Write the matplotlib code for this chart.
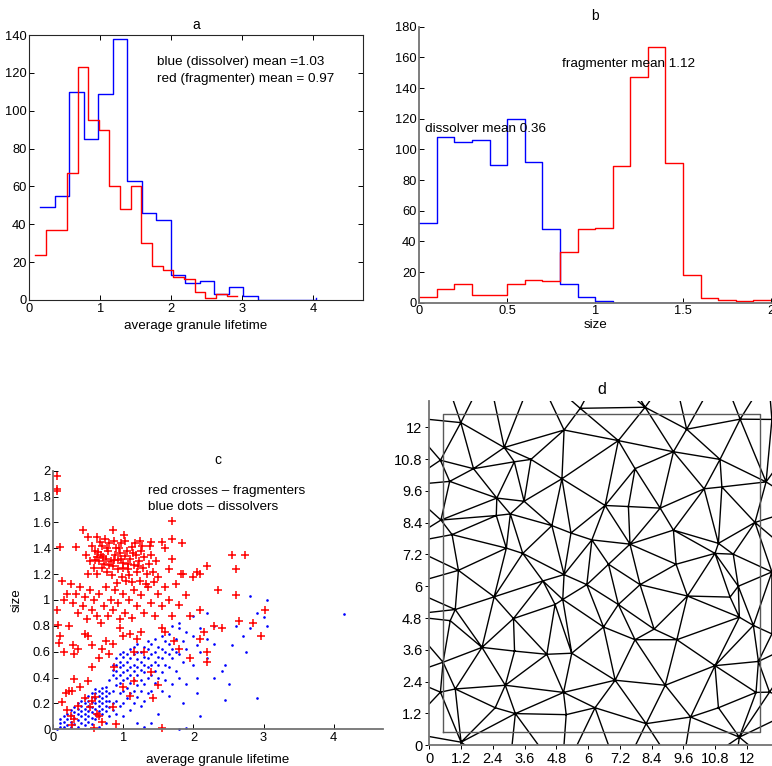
import numpy as np
import matplotlib
matplotlib.use('Agg')
import matplotlib.pyplot as plt
import matplotlib.tri as mtri

plt.rcParams['font.family'] = ['Liberation Sans', 'DejaVu Sans']

# ---- panel a: lifetime histograms (stairs at bin centres) ----
a_blue_x = [0.155, 0.36, 0.564, 0.769, 0.973, 1.178, 1.382, 1.587, 1.791, 1.996,
            2.2, 2.405, 2.609, 2.814, 3.018, 3.223, 3.427, 3.632, 3.836, 4.04]
a_blue_n = [49, 55, 110, 85, 109, 138, 63, 46, 42, 13, 9, 10, 3, 7, 2, 0, 0, 0, 0, 1]
a_red_x = [0.08, 0.23, 0.38, 0.53, 0.68, 0.83, 0.98, 1.13, 1.28, 1.43,
           1.58, 1.73, 1.88, 2.03, 2.18, 2.33, 2.48, 2.63, 2.78, 2.93]
a_red_n = [24, 37, 37, 67, 123, 95, 90, 60, 48, 60, 30, 18, 16, 12, 11, 4, 1, 3, 2, 2]

# ---- panel b: size histograms ----
b_x = [0.0, 0.1, 0.2, 0.3, 0.4, 0.5, 0.6, 0.7, 0.8, 0.9, 1.0,
       1.1, 1.2, 1.3, 1.4, 1.5, 1.6, 1.7, 1.8, 1.9, 2.0]
b_blue_n = [52, 108, 105, 106, 90, 120, 92, 48, 12, 4, 1, 0, 0, 0, 0, 0, 0, 0, 0, 0, 0]
b_red_n = [4, 9, 12, 5, 5, 12, 15, 14, 33, 48, 49, 89, 147, 167, 91, 18, 3, 2, 1, 2, 2]

# ---- panel c: lifetime vs size ----
red_pts = [
    (0.05, 1.96), (0.05, 1.86), (0.05, 1.84), (1.70, 1.61),
    (0.43, 1.54), (0.62, 1.49), (0.85, 1.54), (1.01, 1.50), (1.24, 1.46), (1.40, 1.45),
    (1.55, 1.45), (1.70, 1.47), (1.84, 1.44), (0.10, 1.41), (0.32, 1.41), (0.49, 1.49),
    (0.55, 1.42), (0.60, 1.38), (0.62, 1.33), (0.65, 1.30), (0.68, 1.35), (0.70, 1.42),
    (0.72, 1.28), (0.75, 1.32), (0.78, 1.38), (0.80, 1.44), (0.82, 1.30), (0.85, 1.26),
    (0.88, 1.35), (0.90, 1.40), (0.92, 1.31), (0.95, 1.36), (0.97, 1.44), (1.00, 1.29),
    (1.02, 1.34), (1.05, 1.38), (1.07, 1.24), (1.10, 1.32), (1.12, 1.41), (1.15, 1.27),
    (1.18, 1.35), (1.20, 1.22), (1.22, 1.30), (1.25, 1.38), (1.28, 1.25), (1.30, 1.33),
    (1.33, 1.20), (1.36, 1.28), (1.40, 1.35), (1.42, 1.22), (1.46, 1.30), (1.50, 1.18),
    (0.58, 1.25), (0.63, 1.20), (0.66, 1.45), (0.74, 1.47), (0.86, 1.46), (0.93, 1.24),
    (0.98, 1.18), (1.03, 1.46), (1.08, 1.19), (1.13, 1.14), (1.17, 1.44), (1.23, 1.15),
    (1.27, 1.42), (1.32, 1.12), (1.38, 1.42), (1.44, 1.14), (0.52, 1.30), (0.50, 1.20),
    (0.47, 1.35), (0.69, 1.25), (0.77, 1.22), (0.84, 1.19), (0.91, 1.13), (0.99, 1.25),
    (1.04, 1.15), (0.64, 1.37), (0.71, 1.33), (0.79, 1.27), (0.87, 1.31), (0.96, 1.32),
    (1.06, 1.28), (1.14, 1.36), (1.21, 1.26), (0.59, 1.31), (0.76, 1.40), (0.94, 1.40),
    (0.12, 1.15), (0.15, 1.00), (0.20, 1.05), (0.25, 1.12), (0.28, 0.98), (0.32, 1.05),
    (0.35, 0.90), (0.38, 1.10), (0.42, 0.95), (0.45, 1.02), (0.48, 0.85), (0.52, 1.08),
    (0.55, 0.92), (0.58, 1.00), (0.62, 0.88), (0.65, 1.05), (0.68, 0.82), (0.72, 0.95),
    (0.75, 1.10), (0.78, 0.88), (0.82, 1.00), (0.85, 0.92), (0.88, 1.08), (0.92, 0.98),
    (0.95, 0.85), (1.00, 1.05), (1.03, 0.90), (1.08, 1.00), (1.12, 0.86), (1.15, 1.08),
    (1.20, 0.95), (1.25, 1.04), (1.30, 0.90), (1.35, 1.10), (1.40, 0.98), (1.45, 0.88),
    (1.50, 1.05), (1.55, 0.95), (1.60, 1.10), (1.65, 1.00), (1.70, 0.88), (1.75, 1.12),
    (1.80, 0.96), (1.85, 1.20), (1.90, 1.04), (2.00, 1.18), (2.05, 1.22), (2.10, 1.20),
    (2.20, 1.26), (1.95, 0.88), (2.10, 0.92), (2.35, 1.08), (2.55, 1.35), (2.60, 1.24),
    (2.73, 1.35), (2.60, 1.04), (1.65, 1.24), (1.70, 1.32), (1.60, 1.40), (1.82, 1.20),
    (2.15, 0.75), (2.30, 0.80), (2.40, 0.78), (2.65, 0.84), (2.85, 0.82), (3.02, 0.92),
    (2.97, 0.72), (0.05, 0.92), (0.07, 0.81), (0.08, 0.67), (0.10, 0.72), (0.15, 0.60),
    (0.22, 0.80), (0.28, 0.65), (0.30, 0.58), (0.35, 0.62), (0.45, 0.74), (0.50, 0.72),
    (0.55, 0.65), (0.65, 0.55), (0.70, 0.62), (0.75, 0.68), (0.80, 0.58), (0.85, 0.66),
    (0.95, 0.78), (1.00, 0.72), (1.10, 0.74), (1.20, 0.70), (1.25, 0.75), (1.55, 0.78),
    (1.60, 0.75), (1.72, 0.68), (1.80, 0.62), (2.20, 0.60), (2.10, 0.70), (2.20, 0.52),
    (1.95, 0.55), (1.30, 0.60), (0.18, 0.28), (0.12, 0.21), (0.20, 0.15), (0.22, 0.30),
    (0.27, 0.30), (0.30, 0.39), (0.35, 0.18), (0.38, 0.33), (0.45, 0.24), (0.50, 0.37),
    (0.55, 0.48), (0.62, 0.12), (0.70, 0.06), (0.85, 0.17), (0.87, 0.48), (0.90, 0.04),
    (1.00, 0.33), (1.10, 0.26), (1.15, 0.37), (1.40, 0.44), (1.42, 0.24), (1.50, 0.34),
    (1.55, 0.01), (1.15, 0.60), (0.25, 0.10), (0.27, 0.03), (0.30, 0.08), (0.55, 0.22),
    (0.58, 0.01), (0.65, 0.10), (0.52, 0.17), (0.60, 0.25),
]
blue_pts = [
    (0.10, 0.02), (0.10, 0.05), (0.10, 0.08), (0.15, 0.02), (0.15, 0.06), (0.15, 0.10),
    (0.20, 0.03), (0.20, 0.08), (0.20, 0.12), (0.25, 0.02), (0.25, 0.06), (0.25, 0.11),
    (0.25, 0.15), (0.30, 0.04), (0.30, 0.09), (0.30, 0.13), (0.30, 0.17), (0.35, 0.02),
    (0.35, 0.07), (0.35, 0.12), (0.35, 0.16), (0.35, 0.20), (0.40, 0.05), (0.40, 0.10),
    (0.40, 0.14), (0.40, 0.18), (0.40, 0.22), (0.45, 0.03), (0.45, 0.08), (0.45, 0.12),
    (0.45, 0.16), (0.45, 0.20), (0.45, 0.24), (0.50, 0.06), (0.50, 0.10), (0.50, 0.14),
    (0.50, 0.18), (0.50, 0.22), (0.50, 0.26), (0.55, 0.04), (0.55, 0.09), (0.55, 0.13),
    (0.55, 0.17), (0.55, 0.21), (0.55, 0.25), (0.55, 0.28), (0.60, 0.08), (0.60, 0.12),
    (0.60, 0.16), (0.60, 0.20), (0.60, 0.24), (0.60, 0.28), (0.60, 0.31), (0.65, 0.02),
    (0.65, 0.10), (0.65, 0.14), (0.65, 0.18), (0.65, 0.22), (0.65, 0.26), (0.65, 0.30),
    (0.70, 0.12), (0.70, 0.16), (0.70, 0.20), (0.70, 0.24), (0.70, 0.28), (0.70, 0.32),
    (0.75, 0.05), (0.75, 0.14), (0.75, 0.18), (0.75, 0.22), (0.75, 0.26), (0.75, 0.30),
    (0.75, 0.33), (0.80, 0.10), (0.80, 0.17), (0.80, 0.22), (0.80, 0.28), (0.80, 0.38),
    (0.85, 0.15), (0.85, 0.20), (0.85, 0.30), (0.85, 0.42), (0.85, 0.46), (0.85, 0.50),
    (0.90, 0.12), (0.90, 0.22), (0.90, 0.34), (0.90, 0.40), (0.90, 0.45), (0.90, 0.50),
    (0.90, 0.55), (0.95, 0.18), (0.95, 0.28), (0.95, 0.36), (0.95, 0.42), (0.95, 0.48),
    (0.95, 0.52), (0.95, 0.58), (1.00, 0.10), (1.00, 0.20), (1.00, 0.30), (1.00, 0.38),
    (1.00, 0.44), (1.00, 0.50), (1.00, 0.56), (1.00, 0.60), (1.05, 0.24), (1.05, 0.32),
    (1.05, 0.40), (1.05, 0.46), (1.05, 0.52), (1.05, 0.58), (1.10, 0.15), (1.10, 0.28),
    (1.10, 0.36), (1.10, 0.42), (1.10, 0.48), (1.10, 0.55), (1.10, 0.62), (1.15, 0.20),
    (1.15, 0.30), (1.15, 0.38), (1.15, 0.45), (1.15, 0.50), (1.15, 0.58), (1.15, 0.64),
    (1.20, 0.05), (1.20, 0.25), (1.20, 0.34), (1.20, 0.42), (1.20, 0.48), (1.20, 0.54),
    (1.20, 0.60), (1.20, 0.66), (1.25, 0.18), (1.25, 0.30), (1.25, 0.38), (1.25, 0.46),
    (1.25, 0.52), (1.25, 0.60), (1.30, 0.02), (1.30, 0.22), (1.30, 0.35), (1.30, 0.44),
    (1.30, 0.50), (1.30, 0.56), (1.30, 0.64), (1.35, 0.28), (1.35, 0.40), (1.35, 0.48),
    (1.35, 0.55), (1.35, 0.62), (1.35, 0.68), (1.40, 0.05), (1.40, 0.30), (1.40, 0.42),
    (1.40, 0.50), (1.40, 0.58), (1.40, 0.66), (1.45, 0.36), (1.45, 0.45), (1.45, 0.52),
    (1.45, 0.60), (1.45, 0.70), (1.50, 0.12), (1.50, 0.40), (1.50, 0.50), (1.50, 0.56),
    (1.50, 0.64), (1.55, 0.30), (1.55, 0.44), (1.55, 0.55), (1.55, 0.62), (1.55, 0.72),
    (1.60, 0.38), (1.60, 0.50), (1.60, 0.60), (1.60, 0.68), (1.65, 0.26), (1.65, 0.48),
    (1.65, 0.58), (1.65, 0.66), (1.65, 0.74), (1.70, 0.35), (1.70, 0.55), (1.70, 0.62),
    (1.70, 0.80), (1.75, 0.45), (1.75, 0.60), (1.75, 0.70), (1.80, 0.40), (1.80, 0.58),
    (1.80, 0.78), (1.80, 0.82), (1.85, 0.20), (1.85, 0.52), (1.85, 0.68), (1.90, 0.35),
    (1.90, 0.62), (1.90, 0.75), (1.90, 0.01), (2.00, 0.50), (2.00, 0.72), (2.00, 0.88),
    (2.05, 0.40), (2.05, 0.65), (2.10, 0.10), (2.10, 0.60), (2.10, 0.78), (2.20, 0.55),
    (2.20, 0.70), (2.20, 0.90), (2.30, 0.80), (2.30, 0.66), (2.40, 0.45), (2.45, 0.50),
    (2.50, 0.35), (2.55, 0.65), (2.60, 0.80), (2.70, 0.72), (2.75, 0.60), (2.80, 0.78),
    (2.80, 1.03), (2.90, 0.90), (2.90, 0.24), (3.00, 0.87), (3.05, 1.00), (3.05, 0.80),
    (2.45, 0.23), (2.05, 0.28), (4.15, 0.89), (1.80, 0.00), (2.30, 0.40), (0.05, 0.00),
]

# ---- panel d: mesh vertices (inside the frame, then points beyond the axes) ----
mesh_x = [1.19, 2.83, 5.09, 7.14, 9.72, 11.74, 0.77, 1.67, 2.55, 3.21, 3.84, 5.01, 5.70, 0.42,
          2.53, 3.06, 3.58, 0.44, 0.86, 2.91, 3.53, 4.63, 5.35, 6.64, 7.52, 7.77, 8.72, 9.22,
          10.38, 11.05, 10.98, 8.15, 12.72, 6.14, 7.58, 9.22, 10.92, 10.79, 11.48, 12.30, 9.32,
          6.77, 1.10, 2.45, 4.29, 5.09, 5.04, 5.95, 7.96, 9.75, 11.36, 11.67, 11.71, 0.98, 0.79,
          3.18, 4.75, 7.14, 6.58, 8.49, 7.77, 9.35, 12.24, 1.99, 3.22, 4.44, 5.38, 0.52, 10.79,
          12.43, 0.98, 2.87, 7.02, 8.91, 5.07, 2.49, 3.25, 5.17, 6.26, 8.19, 9.87, 10.92, 12.34,
          11.71, 0.42, 1.20, 12.94, 12.94, 12.85, 12.94,
          -1.0, -1.0, -1.0, -1.0, -1.0, -1.0, -1.0,
          0.5, 2.2, 4.0, 6.5, 7.1, 9.2, 11.0, 12.8,
          14.2, 14.2, 14.2, 14.2, 14.2,
          1.0, 3.0, 5.0, 7.2, 9.5, 11.5, 13.5,
          -1.5, -1.5, 14.5, 14.5]
mesh_y = [12.18, 11.24, 11.90, 11.50, 11.93, 12.31, 9.96, 10.44, 9.33, 10.70, 10.79, 10.06, 12.72, 10.76,
          8.67, 8.73, 9.21, 8.50, 7.95, 7.44, 7.24, 8.29, 8.01, 9.05, 9.01, 10.44, 8.95, 11.08,
          9.68, 9.75, 10.79, 12.76, 9.94, 7.75, 7.59, 8.12, 7.62, 7.24, 7.21, 8.41, 6.83,
          6.83, 6.60, 5.60, 6.20, 6.44, 5.50, 6.06, 6.06, 5.63, 5.59, 6.00, 4.83, 5.12, 4.70,
          4.78, 5.31, 5.31, 4.46, 4.38, 3.98, 3.98, 4.52, 3.69, 3.55, 3.43, 3.47, 3.13, 3.00,
          3.16, 2.12, 2.26, 2.45, 2.26, 1.99, 1.41, 1.19, 1.15, 1.41, 0.81, 1.06, 1.41, 1.99,
          0.30, 2.00, 0.11, 12.30, 6.54, 2.00, 4.20,
          12.4, 9.8, 7.6, 6.0, 4.9, 2.6, 0.5,
          14.2, 14.2, 14.2, 14.2, 14.5, 14.2, 14.2, 14.0,
          12.0, 9.0, 6.8, 4.0, 1.5,
          -1.2, -1.2, -1.2, -1.2, -1.2, -1.2, -1.2,
          -1.5, 14.5, -1.5, 14.5]
frame = [0.5, 12.5]
d_ticks = [0, 1.2, 2.4, 3.6, 4.8, 6, 7.2, 8.4, 9.6, 10.8, 12]
d_ticklabels = ['0', '1.2', '2.4', '3.6', '4.8', '6', '7.2', '8.4', '9.6', '10.8', '12']

fig = plt.figure(figsize=(7.72, 7.66), dpi=100)
W, H = 772.0, 766.0


def place(l, t, r, b):
    return fig.add_axes([l / W, 1 - b / H, (r - l) / W, (b - t) / H])


def matlab_style(ax, box=True, size=9.3):
    ax.tick_params(direction='in', length=3.5, width=0.7, labelsize=size,
                   top=box, right=box, pad=2)
    for s in ax.spines.values():
        s.set_linewidth(0.8)
        s.set_color('0.15')
    if not box:
        ax.spines['top'].set_visible(False)
        ax.spines['right'].set_visible(False)
        for s in ('left', 'bottom'):
            ax.spines[s].set_color('0.45')
            ax.spines[s].set_linewidth(1.3)


# a
ax = place(29.3, 35, 362.7, 300)
ax.step(a_blue_x, a_blue_n, where='post', color='b', lw=1)
ax.step(a_red_x, a_red_n, where='post', color='r', lw=1)
ax.set_xlim(0, 4.7)
ax.set_ylim(0, 140)
ax.set_xticks([0, 1, 2, 3, 4])
ax.set_yticks(range(0, 141, 20))
matlab_style(ax, box=True)
ax.set_title('a', fontsize=10, pad=4)
ax.set_xlabel('average granule lifetime', fontsize=9.6, labelpad=4)
ax.text(1.8, 126, 'blue (dissolver) mean =1.03', fontsize=9.7, va='center')
ax.text(1.8, 117, 'red (fragmenter) mean = 0.97', fontsize=9.7, va='center')

# b
ax = place(419.3, 26.7, 771, 302.7)
ax.step(b_x, b_blue_n, where='post', color='b', lw=1)
ax.step(b_x, b_red_n, where='post', color='r', lw=1)
ax.set_xlim(0, 2)
ax.set_ylim(0, 180)
ax.set_xticks([0, 0.5, 1, 1.5, 2])
ax.set_xticklabels(['0', '0.5', '1', '1.5', '2'])
ax.set_yticks(range(0, 181, 20))
matlab_style(ax, box=False)
ax.set_title('b', fontsize=10, pad=5)
ax.set_xlabel('size', fontsize=9.6, labelpad=1)
ax.text(0.03, 113, 'dissolver mean 0.36', fontsize=9.7, va='center')
ax.text(0.81, 156, 'fragmenter mean 1.12', fontsize=9.7, va='center')

# c
ax = place(53.3, 470.7, 382.7, 729.3)
rx, ry = zip(*red_pts)
bx, by = zip(*blue_pts)
ax.plot(bx, by, '.', color='b', ms=1.8, clip_on=False)
ax.plot(rx, ry, '+', color='r', ms=6, mew=1.1, clip_on=False)
ax.set_xlim(0, 4.7)
ax.set_ylim(0, 2)
ax.set_xticks([0, 1, 2, 3, 4])
ax.set_yticks([0, 0.2, 0.4, 0.6, 0.8, 1, 1.2, 1.4, 1.6, 1.8, 2])
ax.set_yticklabels(['0', '0.2', '0.4', '0.6', '0.8', '1', '1.2', '1.4', '1.6', '1.8', '2'])
matlab_style(ax, box=False)
ax.set_title('c', fontsize=10, pad=5)
ax.set_xlabel('average granule lifetime', fontsize=9.6, labelpad=7)
ax.set_ylabel('size', fontsize=9.6, labelpad=7)
ax.text(1.35, 1.84, 'red crosses \u2013 fragmenters', fontsize=9.7, va='center')
ax.text(1.35, 1.72, 'blue dots \u2013 dissolvers', fontsize=9.7, va='center')

# d
ax = place(429.3, 400.9, 773.5, 745.1)
tri = mtri.Triangulation(mesh_x, mesh_y)
ax.triplot(tri, color='k', lw=1.0)
ax.plot([frame[0], frame[1], frame[1], frame[0], frame[0]],
        [frame[0], frame[0], frame[1], frame[1], frame[0]], color='0.35', lw=1)
ax.set_xlim(0, 13)
ax.set_ylim(0, 13)
ax.set_xticks(d_ticks)
ax.set_xticklabels(d_ticklabels)
ax.set_yticks(d_ticks)
ax.set_yticklabels(d_ticklabels)
matlab_style(ax, box=False, size=10.5)
ax.tick_params(direction='out', length=3)
ax.set_title('d', fontsize=11.5, pad=5)

fig.savefig('out.png', dpi=100)
